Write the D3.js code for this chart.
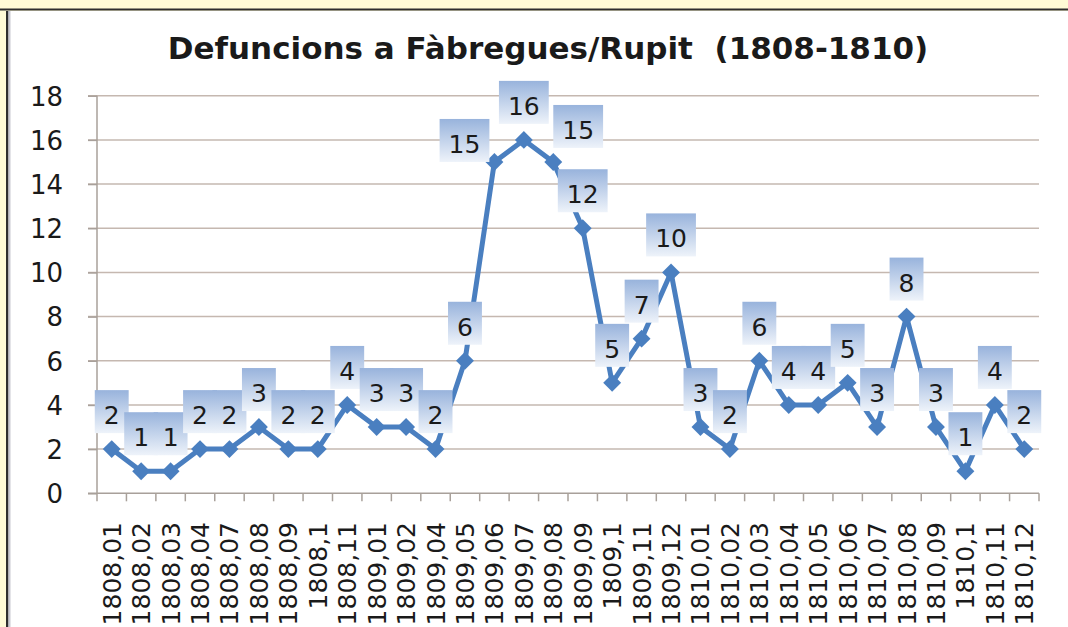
<!DOCTYPE html>
<html>
<head>
<meta charset="utf-8">
<script src="https://cdn.jsdelivr.net/npm/d3@7/dist/d3.min.js"></script>
<style>
  html, body { margin: 0; padding: 0; background: #fffbd6; }
  svg { display: block; }
</style>
</head>
<body>
<svg id="chart" width="1068" height="627"></svg>
<script>
const categories = ["1808,01","1808,02","1808,03","1808,04","1808,07","1808,08","1808,09","1808,1","1808,11",
  "1809,01","1809,02","1809,04","1809,05","1809,06","1809,07","1809,08","1809,09","1809,1","1809,11","1809,12",
  "1810,01","1810,02","1810,03","1810,04","1810,05","1810,06","1810,07","1810,08","1810,09","1810,1","1810,11","1810,12"];
const deaths = [2,1,1,2,2,3,2,2,4,3,3,2,6,15,16,15,12,5,7,10,3,2,6,4,4,5,3,8,3,1,4,2];
const yTicks = [0,2,4,6,8,10,12,14,16,18];
const title = "Defuncions a Fàbregues/Rupit  (1808-1810)";

(function () {
const svg = d3.select("#chart");
const W = 1068, H = 627;
const font = "'DejaVu Sans', sans-serif";

// frame
svg.append("rect").attr("x", 0).attr("y", 0).attr("width", W).attr("height", H).attr("fill", "#fffbd6");
svg.append("rect").attr("x", 0).attr("y", 8.5).attr("width", W).attr("height", 2).attr("fill", "#2e2e2e");
svg.append("rect").attr("x", 7).attr("y", 11).attr("width", W - 7).attr("height", H - 11).attr("fill", "#ffffff");
svg.append("rect").attr("x", 6).attr("y", 11).attr("width", 2.5).attr("height", H - 11).attr("fill", "#2e2e2e");
svg.append("rect").attr("x", 8.5).attr("y", 11).attr("width", 2).attr("height", H - 11).attr("fill", "#c9c9d2");

const pLeft = 97, pRight = 1039, pTop = 95.7, pBottom = 493.3;

const x = d3.scaleBand().domain(categories).range([pLeft, pRight]).paddingInner(0).paddingOuter(0);
const y = d3.scaleLinear().domain([0, 18]).range([pBottom, pTop]);

// gridlines
svg.append("g").selectAll("line").data(yTicks.filter(d => d > 0)).join("line")
  .attr("x1", pLeft - 9).attr("x2", pRight)
  .attr("y1", d => y(d)).attr("y2", d => y(d))
  .attr("stroke", "#c5b8b0").attr("stroke-width", 1.5);

// y axis
const yAxis = d3.axisLeft(y).tickValues(yTicks).tickSize(9).tickPadding(0).tickFormat(d3.format("d"));
const yg = svg.append("g").attr("transform", `translate(${pLeft},0)`).call(yAxis);
yg.select(".domain").attr("stroke", "#a8a09a").attr("stroke-width", 1.5).attr("d", `M0,${pTop}V${pBottom}`);
yg.selectAll(".tick line").attr("stroke", "#a8a09a").attr("stroke-width", 1.5);
yg.selectAll(".tick text").attr("x", 63 - pLeft).attr("dy", "0.36em")
  .attr("font-family", font).attr("font-size", 26).attr("fill", "#1a1a1a").attr("text-anchor", "end");

// x axis
const xAxis = d3.axisBottom(x).tickSize(0).tickFormat(() => "");
const xg = svg.append("g").attr("transform", `translate(0,${pBottom})`).call(xAxis);
xg.select(".domain").attr("stroke", "#a8a09a").attr("stroke-width", 1.5).attr("d", `M${pLeft - 9},0H${pRight}`);
xg.selectAll(".tick").remove();
const bounds = categories.map(c => x(c)).concat([x(categories[categories.length - 1]) + x.bandwidth()]);
svg.append("g").selectAll("line").data(bounds).join("line")
  .attr("x1", d => d).attr("x2", d => d).attr("y1", pBottom).attr("y2", pBottom + 8)
  .attr("stroke", "#a8a09a").attr("stroke-width", 1.5);

// x labels
const xfs = 25;
svg.append("g").selectAll("text").data(categories).join("text")
  .attr("transform", d => `translate(${x(d) + x.bandwidth() / 2 + 0.36 * xfs},522) rotate(-90)`)
  .attr("text-anchor", "end")
  .attr("font-family", font).attr("font-size", xfs).attr("fill", "#1a1a1a")
  .text(d => d);

// title
svg.append("text").attr("x", 548).attr("y", 59).attr("text-anchor", "middle")
  .attr("font-family", font).attr("font-weight", "bold").attr("font-size", 31).attr("fill", "#1a1a1a")
  .style("white-space", "pre").text(title);

// line
const cx = i => x(categories[i]) + x.bandwidth() / 2;
const line = d3.line().x((d, i) => cx(i)).y(d => y(d));
svg.append("path").datum(deaths).attr("d", line)
  .attr("fill", "none").attr("stroke", "#4a7fc0").attr("stroke-width", 5).attr("stroke-linejoin", "round");

svg.append("g").selectAll("path").data(deaths).join("path")
  .attr("d", d3.symbol().type(d3.symbolSquare).size(160))
  .attr("transform", (d, i) => `translate(${cx(i)},${y(d)}) rotate(45)`)
  .attr("fill", "#4a7fc0");

// data labels
const defs = svg.append("defs");
const grad = defs.append("linearGradient").attr("id", "lblGrad").attr("x1", 0).attr("y1", 0).attr("x2", 0).attr("y2", 1);
grad.append("stop").attr("offset", "0%").attr("stop-color", "#98b3dc");
grad.append("stop").attr("offset", "100%").attr("stop-color", "#eef3fa");

const labelPlacement = {13: "left", 15: "right"};
const lfs = 25, boxH = 43;
const lg = svg.append("g");
deaths.forEach((v, i) => {
  const px = cx(i), py = y(v);
  const txt = String(v);
  const tw = txt.length * 0.636 * lfs;
  const bw = tw + 18;
  let bx = px - bw / 2, by = py - 16 - boxH;
  const place = labelPlacement[i];
  if (place === "left") { bx = px - 5 - bw; by = py - boxH; }
  if (place === "right") { bx = px; by = py - 14 - boxH; }
  const g = lg.append("g");
  g.append("rect").attr("x", bx).attr("y", by).attr("width", bw).attr("height", boxH).attr("fill", "url(#lblGrad)");
  g.append("text").attr("x", bx + bw / 2).attr("y", by + boxH - 9).attr("text-anchor", "middle")
    .attr("font-family", font).attr("font-size", lfs).attr("fill", "#1a1a1a").text(txt);
});
})();
</script>
</body>
</html>
